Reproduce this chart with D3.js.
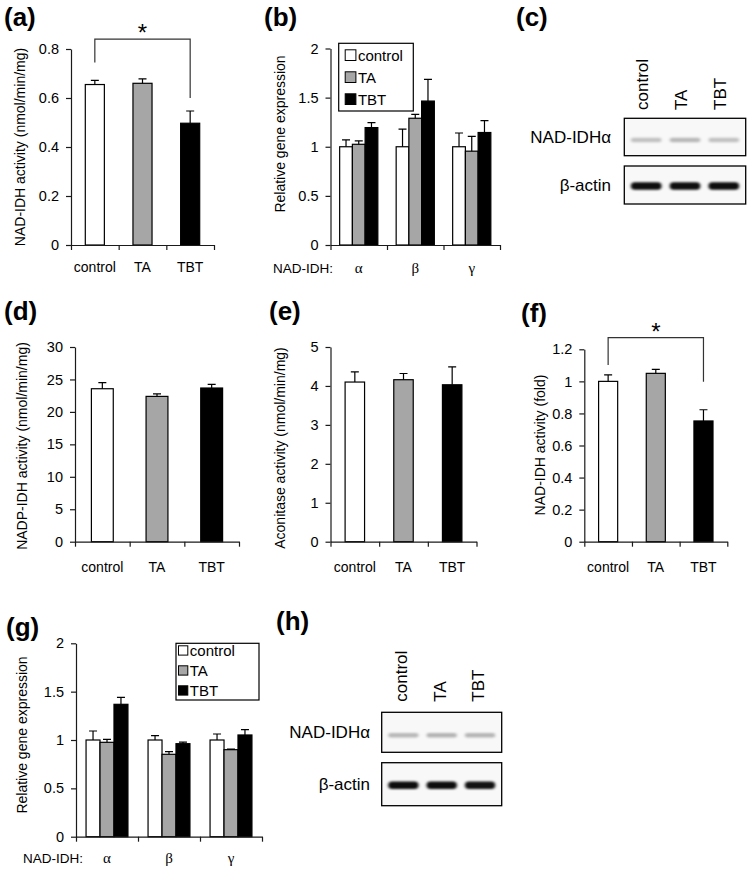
<!DOCTYPE html>
<html>
<head>
<meta charset="utf-8">
<script src="https://cdn.jsdelivr.net/npm/d3@7"></script>
<style>
  body { margin: 0; background: #fff; }
  svg text { font-family: Arial, "Liberation Sans", sans-serif; fill: #000; }
</style>
</head>
<body>
<svg id="figure" width="750" height="871"></svg>
<script>
// ---- values ----
var treatments = ["control", "TA", "TBT"];
var subunits = ["α", "β", "γ"];

// (a) NAD-IDH activity (nmol/min/mg)
var nadIdhActivity = [0.655, 0.66, 0.497];
var nadIdhActivityErr = [0.017, 0.018, 0.05];
var nadIdhTicks = [0, 0.2, 0.4, 0.6, 0.8];

// (b) relative gene expression, one row per subunit, one column per treatment
var exprB = [[1.0, 1.025, 1.195], [1.0, 1.29, 1.465], [1.0, 0.955, 1.145]];
var exprBErr = [[0.07, 0.035, 0.05], [0.18, 0.04, 0.22], [0.14, 0.15, 0.12]];
var exprTicks = [0, 0.5, 1, 1.5, 2];

// (d) NADP-IDH activity (nmol/min/mg)
var nadpIdhActivity = [23.57, 22.39, 23.68];
var nadpIdhActivityErr = [0.93, 0.4, 0.56];
var nadpTicks = [0, 5, 10, 15, 20, 25, 30];

// (e) aconitase activity (nmol/min/mg)
var aconitaseActivity = [4.10, 4.16, 4.03];
var aconitaseActivityErr = [0.26, 0.16, 0.46];
var aconitaseTicks = [0, 1, 2, 3, 4, 5];

// (f) NAD-IDH activity (fold)
var nadIdhFold = [1.0, 1.05, 0.753];
var nadIdhFoldErr = [0.04, 0.025, 0.07];
var foldTicks = [0, 0.2, 0.4, 0.6, 0.8, 1, 1.2];

// (g) relative gene expression
var exprG = [[1.0, 0.976, 1.369], [1.0, 0.852, 0.962], [1.0, 0.9, 1.052]];
var exprGErr = [[0.093, 0.031, 0.072], [0.045, 0.027, 0.017], [0.062, 0.005, 0.055]];

// (c), (h) western blots: band darkness per lane
var blotRows = ["NAD-IDHα", "β-actin"];
var blotC = [[0.22, 0.26, 0.22], [0.95, 0.95, 0.95]];
var blotH = [[0.26, 0.28, 0.27], [0.95, 0.95, 0.93]];

var fills = { control: "#ffffff", TA: "#a6a6a6", TBT: "#000000" };

var svg = d3.select("#figure");

svg.append("defs").append("filter")
    .attr("id", "blur")
    .attr("x", "-20%").attr("y", "-150%")
    .attr("width", "140%").attr("height", "400%")
  .append("feGaussianBlur")
    .attr("stdDeviation", "1.6 0.9");

function panelLetter(t, x, y) {
  svg.append("text")
    .attr("x", x).attr("y", y)
    .attr("font-size", 26)
    .attr("font-weight", "bold")
    .text(t);
}

// rows: [{cat, key, treat, v, e}]
function barChart(p) {
  var g = svg.append("g");
  var y = d3.scaleLinear().domain([0, p.max]).range([p.yBottom, p.yTop]);
  var x = d3.scaleBand().domain(p.cats).range([p.x0, p.x1]);
  var xs = d3.scaleBand().domain(p.keys).range([0, x.bandwidth()])
    .paddingInner(p.inner).paddingOuter(p.outer);

  var bar = g.selectAll("g.bar")
    .data(p.rows)
    .enter().append("g")
    .attr("class", "bar")
    .attr("transform", function(d) { return "translate(" + (x(d.cat) + xs(d.key)) + ",0)"; });

  bar.append("rect")
    .attr("y", function(d) { return y(d.v); })
    .attr("width", xs.bandwidth())
    .attr("height", function(d) { return y(0) - y(d.v); })
    .attr("fill", function(d) { return fills[d.treat]; })
    .attr("stroke", "#000")
    .attr("stroke-width", 1.2);

  var cw = 4;
  bar.append("path")
    .attr("d", function(d) {
      var cx = xs.bandwidth() / 2;
      return "M" + cx + "," + y(d.v) + "V" + y(d.v + d.e) +
             "M" + (cx - cw) + "," + y(d.v + d.e) + "H" + (cx + cw);
    })
    .attr("stroke", "#000")
    .attr("stroke-width", 1.2)
    .attr("fill", "none");

  // y axis
  var ya = g.append("g")
    .attr("transform", "translate(" + p.x0 + ",0)")
    .call(d3.axisLeft(y).tickValues(p.ticks).tickSize(5).tickSizeOuter(0)
      .tickPadding(7).tickFormat(d3.format("")));
  ya.selectAll("text").attr("font-size", 14.5).attr("font-family", null).attr("fill", "#000");

  // x axis, tick marks between categories
  var xl = d3.scaleLinear().domain([0, p.cats.length]).range([p.x0, p.x1]);
  g.append("g")
    .attr("transform", "translate(0," + p.yBottom + ")")
    .call(d3.axisBottom(xl).tickValues(d3.range(p.cats.length + 1))
      .tickSize(5).tickSizeOuter(0).tickFormat(""));

  g.selectAll(".domain, .tick line").attr("stroke", "#1a1a1a").attr("stroke-width", 1.2);

  g.selectAll("text.cat")
    .data(p.cats)
    .enter().append("text")
    .attr("class", "cat")
    .attr("x", function(c) { return x(c) + x.bandwidth() / 2; })
    .attr("y", p.catY)
    .attr("text-anchor", "middle")
    .attr("font-size", p.catFont ? 15 : 14)
    .style("font-family", p.catFont || null)
    .text(function(c) { return c; });

  g.append("text")
    .attr("transform", "translate(" + p.labelX + "," + p.labelY + ") rotate(-90)")
    .attr("text-anchor", "middle")
    .attr("font-size", 14)
    .text(p.label);

  return { x: x, y: y, g: g };
}

function singleRows(vals, errs) {
  return treatments.map(function(t, i) {
    return { cat: t, key: "bar", treat: t, v: vals[i], e: errs[i] };
  });
}

function groupedRows(vals, errs) {
  var rows = [];
  subunits.forEach(function(s, i) {
    treatments.forEach(function(t, j) {
      rows.push({ cat: s, key: t, treat: t, v: vals[i][j], e: errs[i][j] });
    });
  });
  return rows;
}

function bracket(c, from, to, leftV, topV, rightV) {
  var xa = c.x(from) + c.x.bandwidth() / 2;
  var xb = c.x(to) + c.x.bandwidth() / 2;
  c.g.append("path")
    .attr("d", "M" + xa + "," + c.y(leftV) + "V" + c.y(topV) + "H" + xb + "V" + c.y(rightV))
    .attr("fill", "none")
    .attr("stroke", "#333")
    .attr("stroke-width", 1.2);
  c.g.append("text")
    .attr("x", (xa + xb) / 2)
    .attr("y", c.y(topV) + 2)
    .attr("text-anchor", "middle")
    .attr("font-size", 24)
    .text("*");
}

function legend(x, y, w, h, sq, step, pad) {
  var g = svg.append("g").attr("transform", "translate(" + x + "," + y + ")");
  g.append("rect").attr("width", w).attr("height", h)
    .attr("fill", "#fff").attr("stroke", "#000").attr("stroke-width", 1.2);
  var item = g.selectAll("g.item")
    .data(treatments)
    .enter().append("g")
    .attr("transform", function(d, i) { return "translate(" + pad + "," + (pad + sq / 2 + i * step) + ")"; });
  item.append("rect")
    .attr("y", -sq / 2).attr("width", sq).attr("height", sq)
    .attr("fill", function(d) { return fills[d]; })
    .attr("stroke", "#000").attr("stroke-width", 1);
  item.append("text")
    .attr("x", sq + 2).attr("y", 5.5)
    .attr("font-size", 15)
    .text(function(d) { return d; });
}

function geneLabel(x, y) {
  svg.append("text").attr("x", x).attr("y", y).attr("font-size", 13.5).text("NAD-IDH:");
}

// blot: p {x0, x1, rows: [[y0,y1],[y0,y1]], laneY, labelX, data}
function blot(p) {
  var g = svg.append("g");
  var lane = d3.scaleBand().domain(treatments).range([p.x0, p.x1])
    .paddingInner(0.21).paddingOuter(0.17);

  g.selectAll("text.lane")
    .data(treatments)
    .enter().append("text")
    .attr("class", "lane")
    .attr("transform", function(t) {
      return "translate(" + (lane(t) + lane.bandwidth() / 2 + p.laneShift) + "," + p.laneY + ") rotate(-90)";
    })
    .attr("font-size", 17)
    .text(function(t) { return t; });

  var bandH = [4.5, 7.5];
  var bandDy = [3, 1];
  blotRows.forEach(function(name, r) {
    var y0 = p.rows[r][0], y1 = p.rows[r][1], cy = (y0 + y1) / 2;
    g.append("rect")
      .attr("x", p.x0).attr("y", y0)
      .attr("width", p.x1 - p.x0).attr("height", y1 - y0)
      .attr("fill", "#f8f8f8");
    g.selectAll("rect.band" + r)
      .data(p.data[r])
      .enter().append("rect")
      .attr("class", "band" + r)
      .attr("x", function(d, i) { return lane(treatments[i]); })
      .attr("y", cy + bandDy[r] - bandH[r] / 2)
      .attr("width", lane.bandwidth())
      .attr("height", bandH[r])
      .attr("rx", bandH[r] / 2)
      .attr("fill", "#000")
      .attr("fill-opacity", function(d) { return d; })
      .attr("filter", "url(#blur)");
    g.append("rect")
      .attr("x", p.x0).attr("y", y0)
      .attr("width", p.x1 - p.x0).attr("height", y1 - y0)
      .attr("fill", "none").attr("stroke", "#000").attr("stroke-width", 1.3);
    g.append("text")
      .attr("x", p.labelX).attr("y", cy + 6)
      .attr("text-anchor", "end")
      .attr("font-size", 17)
      .text(name);
  });
}

// ---- (a) ----
panelLetter("(a)", 4, 26);
var ca = barChart({
  x0: 71, x1: 214, yTop: 49, yBottom: 245, max: 0.8, ticks: nadIdhTicks,
  cats: treatments, keys: ["bar"], inner: 0.6, outer: 0.3,
  rows: singleRows(nadIdhActivity, nadIdhActivityErr),
  catY: 272, label: "NAD-IDH activity (nmol/min/mg)", labelX: 25, labelY: 147
});
bracket(ca, "control", "TBT", 0.745, 0.84, 0.60);

// ---- (b) ----
panelLetter("(b)", 264, 26);
barChart({
  x0: 330.5, x1: 500, yTop: 48.5, yBottom: 245, max: 2, ticks: exprTicks,
  cats: subunits, keys: treatments, inner: 0, outer: 0.72,
  rows: groupedRows(exprB, exprBErr),
  catY: 273, catFont: "'Liberation Serif', 'DejaVu Serif', serif",
  label: "Relative gene expression", labelX: 285, labelY: 134
});
legend(338.7, 43.3, 74.6, 67.7, 10.7, 22, 6.5);
geneLabel(273, 273);

// ---- (c) ----
panelLetter("(c)", 516, 26);
blot({
  x0: 624.3, x1: 745.7, rows: [[118.3, 155.7], [166, 204]],
  laneY: 110, laneShift: 2, labelX: 611, data: blotC
});

// ---- (d) ----
panelLetter("(d)", 4, 320);
barChart({
  x0: 75, x1: 239, yTop: 347, yBottom: 541.7, max: 30, ticks: nadpTicks,
  cats: treatments, keys: ["bar"], inner: 0.6, outer: 0.3,
  rows: singleRows(nadpIdhActivity, nadpIdhActivityErr),
  catY: 572, label: "NADP-IDH activity (nmol/min/mg)", labelX: 27, labelY: 446
});

// ---- (e) ----
panelLetter("(e)", 269, 320);
barChart({
  x0: 330.5, x1: 476.5, yTop: 347, yBottom: 541.7, max: 5, ticks: aconitaseTicks,
  cats: treatments, keys: ["bar"], inner: 0.6, outer: 0.3,
  rows: singleRows(aconitaseActivity, aconitaseActivityErr),
  catY: 572, label: "Aconitase activity (nmol/min/mg)", labelX: 285, labelY: 448
});

// ---- (f) ----
panelLetter("(f)", 521, 322);
var cf = barChart({
  x0: 584.3, x1: 727.3, yTop: 349.3, yBottom: 541.7, max: 1.2, ticks: foldTicks,
  cats: treatments, keys: ["bar"], inner: 0.6, outer: 0.3,
  rows: singleRows(nadIdhFold, nadIdhFoldErr),
  catY: 572, label: "NAD-IDH activity (fold)", labelX: 545, labelY: 445
});
bracket(cf, "control", "TBT", 1.102, 1.273, 0.998);

// ---- (g) ----
panelLetter("(g)", 6, 636);
barChart({
  x0: 76, x1: 262, yTop: 643.3, yBottom: 836.7, max: 2, ticks: exprTicks,
  cats: subunits, keys: treatments, inner: 0, outer: 0.72,
  rows: groupedRows(exprG, exprGErr),
  catY: 863, catFont: "'Liberation Serif', 'DejaVu Serif', serif",
  label: "Relative gene expression", labelX: 26.5, labelY: 735
});
legend(176, 643.3, 83, 56.7, 9.3, 20, 2.5);
geneLabel(23, 863);

// ---- (h) ----
panelLetter("(h)", 276, 630);
blot({
  x0: 381.7, x1: 501.7, rows: [[712.3, 752.3], [762.7, 805.7]],
  laneY: 701.7, laneShift: 4, labelX: 370, data: blotH
});
</script>
</body>
</html>
